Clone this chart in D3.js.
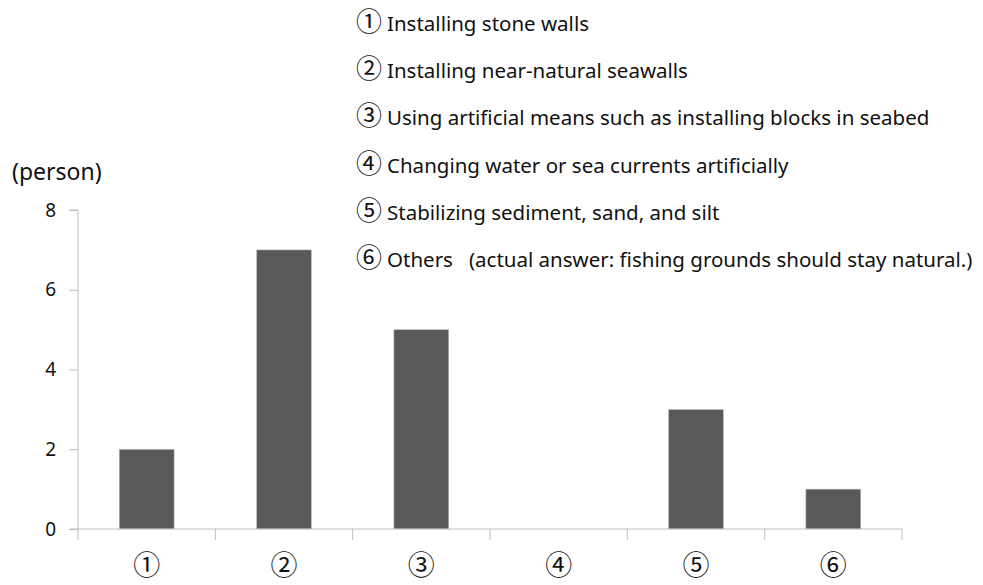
<!DOCTYPE html>
<html>
<head>
<meta charset="utf-8">
<script src="https://cdn.jsdelivr.net/npm/d3@7"></script>
<style>
  body { margin: 0; background: #fff; }
  text { font-family: "Noto Sans", "Noto Sans CJK JP", sans-serif; fill: #111; }
</style>
</head>
<body>
<div id="chart"></div>
<script>
// data
var categories = ["①", "②", "③", "④", "⑤", "⑥"];
var counts = [2, 7, 5, 0, 3, 1];
var yTicks = [0, 2, 4, 6, 8];
var legendLabels = [
  "Installing stone walls",
  "Installing near-natural seawalls",
  "Using artificial means such as installing blocks in seabed",
  "Changing water or sea currents artificially",
  "Stabilizing sediment, sand, and silt",
  "Others\u00a0\u00a0 (actual answer: fishing grounds should stay natural.)"
];
var yUnit = "(person)";

const width = 983;
const height = 585;

// plot area
const plotLeft = 78, plotRight = 902, plotTop = 210, plotBottom = 529;

var svg = d3.select("#chart").append("svg")
  .attr("width", width)
  .attr("height", height);

var xScale = d3.scaleBand().domain(categories).range([plotLeft, plotRight])
  .paddingInner(0.6).paddingOuter(0.3);
var yScale = d3.scaleLinear().domain([0, 8]).range([plotBottom, plotTop]);

const axisColor = "#bfbfbf";

// y axis
var yAxis = svg.append("g")
  .attr("transform", "translate(" + plotLeft + ",0)")
  .call(d3.axisLeft(yScale).tickValues(yTicks).tickSize(9).tickPadding(13));
yAxis.select(".domain").attr("stroke", axisColor).attr("d", "M-9," + plotTop + "H0V" + plotBottom);
yAxis.selectAll(".tick line").attr("stroke", axisColor);
yAxis.attr("font-family", null).attr("font-size", null);
yAxis.selectAll(".tick text")
  .style("font-size", "19px")
  .style("fill", "#111");

// bars
svg.append("g").selectAll("rect")
  .data(counts)
  .enter()
  .append("rect")
  .attr("x", function(d, i) { return xScale(categories[i]); })
  .attr("y", function(d) { return yScale(d); })
  .attr("width", xScale.bandwidth())
  .attr("height", function(d) { return yScale(0) - yScale(d); })
  .attr("fill", "#595959")
  .attr("stroke", "#c8c8c8")
  .attr("stroke-width", 0.6);

// x axis baseline + separators between categories
var step = xScale.step();
var xg = svg.append("g");
xg.append("line")
  .attr("x1", plotLeft - 8).attr("x2", plotRight)
  .attr("y1", plotBottom).attr("y2", plotBottom)
  .attr("stroke", axisColor);
xg.selectAll(".sep")
  .data(d3.range(categories.length + 1))
  .enter()
  .append("line")
  .attr("class", "sep")
  .attr("x1", function(i) { return plotLeft + i * step; })
  .attr("x2", function(i) { return plotLeft + i * step; })
  .attr("y1", plotBottom).attr("y2", plotBottom + 11)
  .attr("stroke", axisColor);
xg.selectAll(".xlab")
  .data(categories)
  .enter()
  .append("text")
  .attr("class", "xlab")
  .attr("x", function(d) { return xScale(d) + xScale.bandwidth() / 2; })
  .attr("y", 566)
  .attr("dy", "0.35em")
  .attr("text-anchor", "middle")
  .style("font-family", "'Noto Sans CJK JP', sans-serif")
  .style("font-size", "27px")
  .text(function(d) { return d; });

// unit label
svg.append("text")
  .attr("x", 12)
  .attr("y", 172)
  .attr("dy", "0.35em")
  .style("font-size", "23px")
  .text(yUnit);

// legend of categories
var leg = svg.append("g").selectAll("text")
  .data(legendLabels)
  .enter()
  .append("text")
  .attr("y", function(d, i) { return 25 + i * 47.3; })
  .attr("dy", "0.35em");
leg.append("tspan")
  .attr("x", 356)
  .style("font-family", "'Noto Sans CJK JP', sans-serif")
  .style("font-size", "26px")
  .text(function(d, i) { return categories[i]; });
leg.append("tspan")
  .attr("x", 387)
  .style("font-size", "20.5px")
  .text(function(d) { return d; });
</script>
</body>
</html>
